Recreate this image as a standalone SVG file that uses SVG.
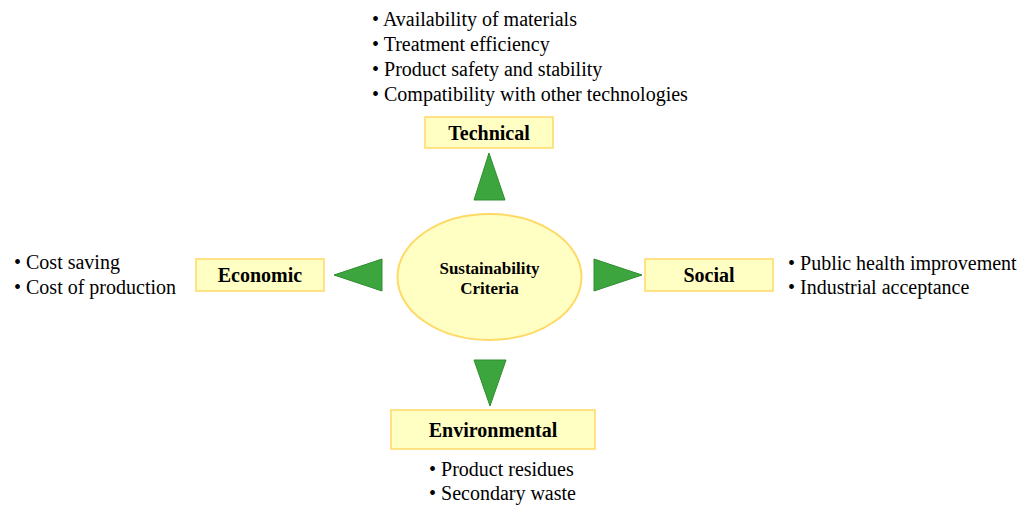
<svg xmlns="http://www.w3.org/2000/svg" width="1029" height="506" viewBox="0 0 1029 506">
<style>
.box{fill:#FFFFC4;stroke:#FFD966;stroke-width:1.5}
.lbl{font-family:"Liberation Serif",serif;font-weight:bold;font-size:20px;fill:#000;text-anchor:middle;dominant-baseline:central}
.item{font-family:"Liberation Serif",serif;font-size:20px;fill:#000}
.arr{fill:#3DA53D;stroke:#2F8F2F;stroke-width:1}
</style>
<rect width="1029" height="506" fill="#fff"/>
<g id="center">
<ellipse cx="489.5" cy="277" rx="92" ry="63" fill="#FFFFC4" stroke="#FFD966" stroke-width="2"/>
<text class="lbl" x="489.5" y="268" style="font-size:17px">Sustainability</text>
<text class="lbl" x="489.5" y="288" style="font-size:17px">Criteria</text>
</g>
<g id="technical">
<rect class="box" x="425" y="117" width="128" height="31"/>
<text class="lbl" x="489" y="133">Technical</text>
<text class="item" x="372" y="26">• Availability of materials</text>
<text class="item" x="372" y="51">• Treatment efficiency</text>
<text class="item" x="372" y="76">• Product safety and stability</text>
<text class="item" x="372" y="101">• Compatibility with other technologies</text>
</g>
<g id="economic">
<rect class="box" x="196" y="259" width="128" height="32"/>
<text class="lbl" x="260" y="275">Economic</text>
<text class="item" x="14" y="269">• Cost saving</text>
<text class="item" x="14" y="294">• Cost of production</text>
</g>
<g id="social">
<rect class="box" x="645" y="259" width="128" height="32"/>
<text class="lbl" x="709" y="275">Social</text>
<text class="item" x="788" y="270">• Public health improvement</text>
<text class="item" x="788" y="294">• Industrial acceptance</text>
</g>
<g id="environmental">
<rect class="box" x="391" y="410" width="204" height="39"/>
<text class="lbl" x="493" y="430">Environmental</text>
<text class="item" x="429" y="476">• Product residues</text>
<text class="item" x="429" y="500">• Secondary waste</text>
</g>
<g id="connectors">
<polygon class="arr" points="489,153 505,200 474,200"/>
<polygon class="arr" points="334,275 382,259 382,291"/>
<polygon class="arr" points="642,275 594,259 594,291"/>
<polygon class="arr" points="490,406 474,360 506,360"/>
</g>
</svg>
